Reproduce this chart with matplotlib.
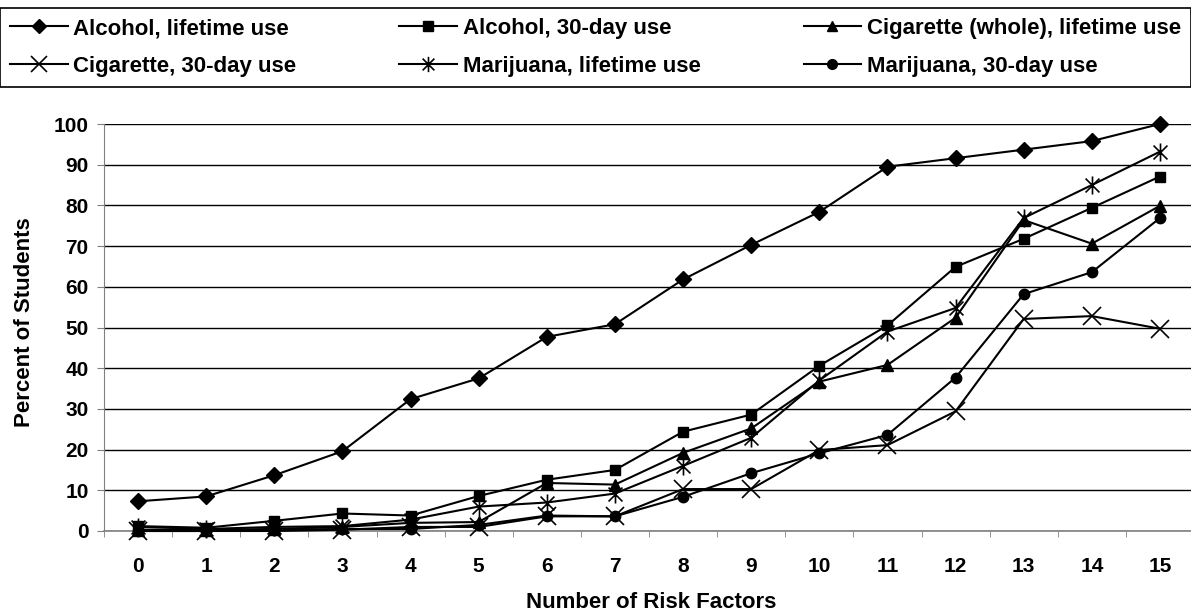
import numpy as np
import matplotlib.pyplot as plt
from matplotlib.path import Path

plt.rcParams['font.family'] = ['Liberation Sans', 'DejaVu Sans']
plt.rcParams['font.weight'] = 'bold'

risk_factors = list(range(16))
alcohol_life = [7.3, 8.5, 13.7, 19.6, 32.4, 37.5, 47.7, 50.8, 61.8, 70.3, 78.4, 89.5, 91.6, 93.7, 95.8, 100]
alcohol_30 = [1.2, 0.8, 2.5, 4.3, 3.8, 8.6, 12.6, 15.0, 24.4, 28.6, 40.6, 50.5, 64.9, 71.8, 79.4, 87.1]
cig_life = [0.3, 0.3, 0.5, 1.0, 2.0, 2.2, 11.8, 11.4, 19.2, 25.2, 36.7, 40.8, 52.4, 76.4, 70.6, 79.9]
cig_30 = [0.0, 0.0, 0.0, 0.3, 1.0, 1.0, 3.6, 3.6, 10.3, 10.3, 19.9, 21.1, 29.4, 52.1, 52.8, 49.7]
mj_life = [1.0, 0.5, 1.0, 1.2, 2.8, 6.0, 7.0, 9.2, 16.0, 22.9, 37.0, 49.0, 54.8, 76.9, 85.0, 93.2]
mj_30 = [0.0, 0.0, 0.3, 0.5, 0.5, 1.5, 3.8, 3.6, 8.4, 14.2, 19.1, 23.6, 37.7, 58.2, 63.6, 76.9]

labels = ['Alcohol, lifetime use', 'Alcohol, 30-day use', 'Cigarette (whole), lifetime use',
          'Cigarette, 30-day use', 'Marijuana, lifetime use', 'Marijuana, 30-day use']

# excel style star: an X with a vertical bar
star = Path([(-1, -1), (1, 1), (-1, 1), (1, -1), (0, -1.3), (0, 1.3)],
            [Path.MOVETO, Path.LINETO, Path.MOVETO, Path.LINETO, Path.MOVETO, Path.LINETO])

fig = plt.figure(figsize=(11.91, 6.15), dpi=100)
ax = fig.add_axes([104/1191, 84/615, 1090/1191, 407/615])

series = [alcohol_life, alcohol_30, cig_life, cig_30, mj_life, mj_30]
styles = [dict(marker='D', markersize=8),
          dict(marker='s', markersize=7.5),
          dict(marker='^', markersize=8.5),
          dict(marker='x', markersize=13, markeredgewidth=1.2),
          dict(marker=star, markersize=13, markeredgewidth=1.2),
          dict(marker='o', markersize=7.5)]
handles = []
for vals, lab, st in zip(series, labels, styles):
    h, = ax.plot(risk_factors, vals, color='black', lw=1.5, label=lab,
                 markerfacecolor='black', markeredgecolor='black', clip_on=False, zorder=3, **st)
    handles.append(h)

ax.set_xlim(-0.5, 15.5)
ax.set_ylim(0, 100)
ax.set_yticks(np.arange(0, 101, 10))
ax.set_xticks(risk_factors)
ax.set_xticks(np.arange(-0.5, 15.6, 1), minor=True)
ax.tick_params(axis='x', which='major', length=0, pad=19, labelsize=15)
ax.tick_params(axis='x', which='minor', length=4.5, color='gray', direction='out')
ax.tick_params(axis='y', length=5, color='gray', labelsize=15, pad=6)
for lbl in ax.get_xticklabels() + ax.get_yticklabels():
    lbl.set_fontweight('bold')
ax.yaxis.grid(True, color='black', lw=1)
ax.set_axisbelow(True)
for s in ['top', 'right']:
    ax.spines[s].set_visible(False)
ax.spines['left'].set_color('gray')
ax.spines['bottom'].set_color('gray')
ax.spines['bottom'].set_linewidth(1.2)

fig.text(651/1191, 1 - 602/615, 'Number of Risk Factors', fontsize=16, fontweight='bold',
         ha='center', va='center')
fig.text(25/1191, 1 - 322/615, 'Percent of Students', fontsize=16, fontweight='bold',
         ha='center', va='center', rotation=90)

order = [0, 3, 1, 4, 2, 5]
leg = fig.legend([handles[i] for i in order], [labels[i] for i in order], ncol=3,
                 loc='upper left', bbox_to_anchor=(0.0, 1 - 8/615, 1.0, 0), mode='expand',
                 prop=dict(size=16, weight='bold'), fancybox=False, edgecolor='black',
                 framealpha=1, handlelength=2.6, handletextpad=0.25, borderaxespad=0,
                 labelspacing=0.75, borderpad=0.45)
leg.get_frame().set_linewidth(1.2)
for h, i in zip(leg.legend_handles, order):
    h.set_markersize(11 if i in (3, 4) else 7)

fig.savefig('out.png', dpi=100)
